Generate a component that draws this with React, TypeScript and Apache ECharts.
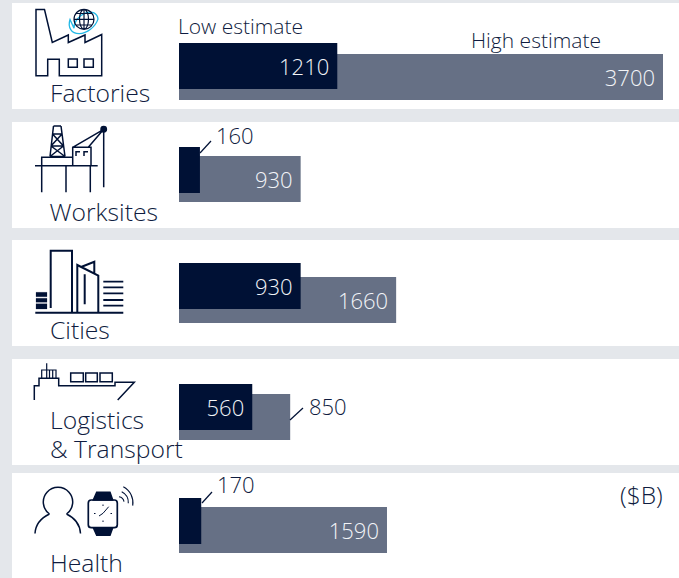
import React, { useEffect, useRef } from "react";
import * as echarts from "echarts";

const categories = ["Factories", "Worksites", "Cities", "Logistics & Transport", "Health"];
const lowEstimate = [1210, 160, 930, 560, 170];
const highEstimate = [3700, 930, 1660, 850, 1590];
const axisMax = 3700;

const NAVY = "#001135";
const SLATE = "#667085";
const INK = "#0f1c40";
const FONT = "'Open Sans', 'Noto Sans', sans-serif";

const lowTops = [43, 147, 263, 384, 498];
const highOffsets = [11, 9, 14, 10, 9];
const BAR_H = 46;
const PLOT_LEFT = 179;
const PLOT_WIDTH = 484;

const panels = [[3, 106], [122, 106], [240, 106], [359, 106], [473, 105]];

const iconLayers: Record<string, { d: string; stroke?: string; fill?: string; w?: number }[]> = {
  factory: [
    { d: "M36 9.5H44.5L52.3 42.5L68.3 35V42.5L85 35V42.5L101.7 34.5V75.7H59.3V59.3H47.7V75.7H36Z" },
    { d: "M68.3 59H77.3V67.3H68.3ZM84 59H93.3V67.3H84Z" },
    { d: "M74 28.3A13.5 9.5 -42 0 1 94 10.3A13.5 9.5 -42 0 1 74 28.3Z", stroke: "#22b8e6", w: 1.3 },
    { d: "M94 19.3A10 10 0 1 1 74 19.3A10 10 0 1 1 94 19.3ZM84 9.3A4.5 10 0 0 1 84 29.3A4.5 10 0 0 1 84 9.3ZM84 9.3V29.3M74 19.3H94M76 13.5H92M76 25H92", w: 1.2 },
  ],
  rig: [
    { d: "M53.5 126H61M53.5 126L50 156.5M61 126L65 156.5M52.5 134H62M52.5 134L63.5 146M62 134L51 146M51 146H63.5M51 146L65 156.5M63.5 146L50 156.5M50 156.5H65" },
    { d: "M41.7 165.7V157.3H72.7M35 165.7H97.7M41.7 165.7V192.3M66 165.7V192.3M90.3 165.7V192.3" },
    { d: "M72.7 165.7V147.3H91V165.7M76 156V151.7H80M84 156V151.7H88M72.7 147.3L103.7 129.3M88.3 147.3L103.7 129.3M103.7 129.3V187.3" },
    { d: "M106.4 129.3A2.7 2.7 0 1 1 101 129.3A2.7 2.7 0 1 1 106.4 129.3Z", fill: NAVY },
  ],
  city: [
    { d: "M50.7 308V250.7H72V312.7M35.3 312.7H123.3M77.3 312.7V265L98.3 275.7V312.7M81.7 266.7L94.3 261.7V273.3M84.7 274.3V304.3", w: 2 },
    { d: "M103.3 281.7H123.3M103.3 287.3H123.3M103.3 293.3H123.3M103.3 300H123.3M103.3 305.7H123.3", w: 1.8 },
    { d: "M36 292.3H47V296.7H36ZM36 298.3H47V302.3H36ZM36 303.7H47V309H36Z", fill: NAVY, w: 0.2 },
  ],
  ship: [
    { d: "M34.3 400V385.7H39V378.3H58.7V385.7H115V382.3H134.3L117.7 400" },
    { d: "M70.7 373H83.3V381.7H70.7ZM85.7 373H97.3V381.7H85.7ZM100 373H112.3V381.7H100Z" },
    { d: "M41.7 378V370H56V378M46.7 363.3V378M49.5 370V378M52.7 370V378", w: 1.2 },
  ],
  health: [
    { d: "M49.5 514A14.7 14.7 0 1 1 66.5 514M49.5 514C41 518 35.5 525 35 533.5M66.5 514C75 518 80 525 80.5 533.5" },
    { d: "M91.3 500H114.3A3 3 0 0 1 117.3 503V524.7A3 3 0 0 1 114.3 527.7H91.3A3 3 0 0 1 88.3 524.7V503A3 3 0 0 1 91.3 500Z", w: 1.7 },
    { d: "M93.3 500L96.7 492.3H110L112.7 500ZM93.3 527.7L96.7 535.3H110L112.7 527.7Z", fill: NAVY },
    { d: "M103 513.3L108.7 506.7M103 513.3L99 516M103 504.5V506M103 520.5V522M94 513.5H95.5M110.5 513.5H112", w: 1 },
    { d: "M119 496.7A6 6 0 0 1 124 501.7M121.7 491.7A12 12 0 0 1 128.3 503.3M123.3 486.7A18 18 0 0 1 132.7 505.7", w: 1.1 },
  ],
};

const categoryLabels = [
  { text: "Factories", x: 50, y: 92 },
  { text: "Worksites", x: 49.5, y: 211 },
  { text: "Cities", x: 50, y: 329 },
  { text: "Logistics\n& Transport", x: 50, y: 434 },
  { text: "Health", x: 50, y: 562 },
];
const noteLabels = [
  { text: "Low estimate", x: 178, y: 26, size: 21 },
  { text: "High estimate", x: 471, y: 40, size: 21 },
  { text: "($B)", x: 620, y: 494, size: 24.5 },
];
const leaders = [
  [200, 153, 211, 141],
  [290, 420, 303, 408],
  [202, 503, 212, 492],
];

const registered = new Set<string>();
function iconGraphics() {
  const out: any[] = [];
  Object.entries(iconLayers).forEach(([name, layers]) => {
    layers.forEach((l, i) => {
      const shape = `${name}Layer${i}`;
      if (!registered.has(shape)) {
        echarts.graphic.registerShape(shape, echarts.graphic.extendPath(l.d, {}) as any);
        registered.add(shape);
      }
      out.push({
        type: shape,
        x: 0,
        y: 0,
        z: 5,
        style: { fill: l.fill ?? "none", stroke: l.stroke ?? NAVY, lineWidth: l.w ?? 1.5 },
      });
    });
  });
  return out;
}

function barLabel(color: string, extra: any = {}) {
  return {
    show: true,
    position: "insideRight",
    distance: 8,
    color,
    fontFamily: FONT,
    fontWeight: 300,
    fontSize: 22,
    ...extra,
  };
}
const callout = (x: number, y: number) =>
  barLabel(INK, { position: [x, y], align: "left", verticalAlign: "middle", distance: 0 });

// Values too small for an inside label sit beside the bar, with a leader line.
const lowCallouts: Record<number, any> = { 1: callout(37, -12), 4: callout(38, -14) };
const highCallouts: Record<number, any> = { 3: callout(130, 12) };

export default function App() {
  const ref = useRef<HTMLDivElement>(null);
  useEffect(() => {
    document.body.style.margin = "0";
    const chart = echarts.init(ref.current!, null, { renderer: "svg" });
    const grid = categories.map((_, i) => ({
      left: PLOT_LEFT,
      width: PLOT_WIDTH,
      top: lowTops[i],
      height: BAR_H + highOffsets[i],
      containLabel: false,
    }));
    const xAxis = categories.map((_, i) => ({
      type: "value",
      gridIndex: i,
      min: 0,
      max: axisMax,
      show: false,
    }));
    const yAxis = categories.map((c, i) => ({
      type: "category",
      gridIndex: i,
      data: [c],
      inverse: true,
      show: false,
    }));
    const series: any[] = [];
    categories.forEach((c, i) => {
      const gap = `${(-(BAR_H - highOffsets[i]) / BAR_H) * 100}%`;
      series.push({
        type: "bar",
        name: "Low estimate",
        xAxisIndex: i,
        yAxisIndex: i,
        barWidth: BAR_H,
        barGap: gap,
        z: 3,
        itemStyle: { color: NAVY },
        label: lowCallouts[i] ?? barLabel("#f2f4f8"),
        data: [lowEstimate[i]],
      });
      series.push({
        type: "bar",
        name: "High estimate",
        xAxisIndex: i,
        yAxisIndex: i,
        barWidth: BAR_H,
        barGap: gap,
        z: 2,
        itemStyle: { color: SLATE },
        label: highCallouts[i] ?? barLabel("#f2f4f8"),
        data: [highEstimate[i]],
      });
    });
    const graphic = [
      ...panels.map(([y, h]) => ({
        type: "rect",
        z: 0,
        shape: { x: 12, y, width: 667, height: h },
        style: { fill: "#ffffff" },
      })),
      ...iconGraphics(),
      ...categoryLabels.map((t) => ({
        type: "text",
        x: t.x,
        y: t.y,
        z: 6,
        style: {
          text: t.text,
          fill: INK,
          font: `300 24.7px ${FONT}`,
          lineHeight: 29,
          textAlign: "left",
          textVerticalAlign: "middle",
        },
      })),
      ...noteLabels.map((t) => ({
        type: "text",
        x: t.x,
        y: t.y,
        z: 6,
        style: {
          text: t.text,
          fill: INK,
          font: `300 ${t.size}px ${FONT}`,
          textAlign: "left",
          textVerticalAlign: "middle",
        },
      })),
      ...leaders.map(([x1, y1, x2, y2]) => ({
        type: "line",
        z: 6,
        shape: { x1, y1, x2, y2 },
        style: { stroke: NAVY, lineWidth: 1.2 },
      })),
    ];
    chart.setOption({
      animation: false,
      backgroundColor: "#e4e7eb",
      grid,
      xAxis,
      yAxis,
      series,
      graphic,
    });
    return () => chart.dispose();
  }, []);
  return <div ref={ref} style={{ width: 679, height: 578 }} />;
}
